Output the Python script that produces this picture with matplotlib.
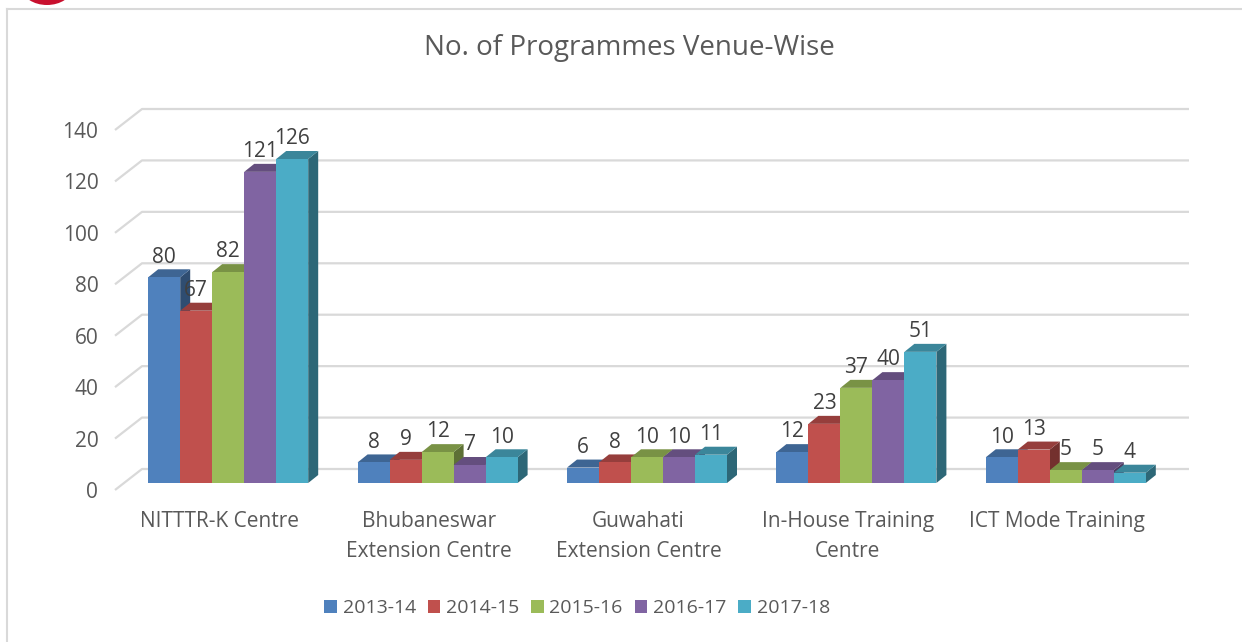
import matplotlib
matplotlib.use('Agg')
import matplotlib.pyplot as plt
from matplotlib.collections import PolyCollection
from matplotlib.lines import Line2D
from matplotlib.patches import Ellipse, Patch
import numpy as np

# Daten
categories = ['NITTTR-K Centre', 'Bhubaneswar\nExtension Centre', 'Guwahati\nExtension Centre',
              'In-House Training\nCentre', 'ICT Mode Training']
years = ['2013-14', '2014-15', '2015-16', '2016-17', '2017-18']
v_2013 = [80, 8, 6, 12, 10]
v_2014 = [67, 9, 8, 23, 13]
v_2015 = [82, 12, 10, 37, 5]
v_2016 = [121, 7, 10, 40, 5]
v_2017 = [126, 10, 11, 51, 4]
series = [v_2013, v_2014, v_2015, v_2016, v_2017]
yticks = [0, 20, 40, 60, 80, 100, 120, 140]

colors = ['#4F81BD', '#C0504D', '#9BBB59', '#8064A2', '#4BACC6']

plt.rcParams['font.family'] = ['Open Sans', 'DejaVu Sans']

W, H = 1242, 642
fig = plt.figure(figsize=(W / 100, H / 100), dpi=100)

# Vorderebene: x 115..1162 px, y 0 -> 490 px, 140 -> 130 px
ax = fig.add_axes([115 / W, (H - 490) / H, 1047 / W, 360 / H])
ax.set_xlim(-0.5, 4.5)
ax.set_ylim(0, 140)

px_x = 1047 / 5
px_y = 360 / 140
wall_dx, wall_dy = 27 / px_x, 21 / px_y
bar_dx, bar_dy = 8.5 / px_x, 7 / px_y
dep_dx, dep_dy = 10 / px_x, 8 / px_y
bar_w = 32 / px_x

# Gitterlinien (Rueckwand + linke Wand)
for t in yticks:
    ax.plot([-0.5, -0.5 + wall_dx, 4.5 + wall_dx], [t, t + wall_dy, t + wall_dy],
            color='#d9d9d9', lw=1.6, clip_on=False, zorder=1, solid_capstyle='butt')


def shade(c, f):
    rgb = np.array(matplotlib.colors.to_rgb(c))
    return tuple(rgb * f)


x = np.arange(len(categories))
for s, (vals, col) in enumerate(zip(series, colors)):
    xs = x + bar_dx + (s - 2) * bar_w
    z = 3 + 3 * s
    sides, tops = [], []
    for xc, v in zip(xs, vals):
        x0, x1 = xc - bar_w / 2, xc + bar_w / 2
        b, t = bar_dy, bar_dy + v
        sides.append([(x1, b), (x1 + dep_dx, b + dep_dy), (x1 + dep_dx, t + dep_dy), (x1, t)])
        tops.append([(x0, t), (x0 + dep_dx, t + dep_dy), (x1 + dep_dx, t + dep_dy), (x1, t)])
    ax.add_collection(PolyCollection(sides, facecolors=shade(col, 0.6), edgecolors='none',
                                     zorder=z, clip_on=False))
    ax.add_collection(PolyCollection(tops, facecolors=shade(col, 0.78), edgecolors='none',
                                     zorder=z + 1, clip_on=False))
    ax.bar(xs, vals, bar_w, bottom=bar_dy, color=col, zorder=z + 2, clip_on=False)
    for xc, v in zip(xs, vals):
        ax.annotate(str(v), (xc, v + bar_dy), xytext=(0, 7), textcoords='offset points',
                    ha='center', va='bottom', fontsize=15, color='#404040', zorder=30)

for sp in ax.spines.values():
    sp.set_visible(False)
ax.set_yticks(yticks)
ax.set_yticklabels([str(t) for t in yticks], fontsize=15, color='#595959')
ax.set_xticks(x)
ax.set_xticklabels(categories, fontsize=15, color='#595959', linespacing=1.6)
ax.tick_params(axis='y', length=0, pad=12)
ax.tick_params(axis='x', length=0, pad=15)
ax.patch.set_visible(False)

fig.text(629 / W, 1 - 48 / H, 'No. of Programmes Venue-Wise', ha='center', va='center',
         fontsize=20, color='#595959')

handles = [Patch(facecolor=c, edgecolor='none') for c in colors]
fig.legend(handles, years, loc='center', bbox_to_anchor=(577 / W, 1 - 608 / H), ncol=5,
           frameon=False, fontsize=14, handlelength=0.65, handleheight=0.65,
           handletextpad=0.3, columnspacing=0.6, labelcolor='#595959')

# Rahmen und Logo-Rest
fig.add_artist(Line2D([6.5 / W, 6.5 / W], [0, 1 - 9 / H], color='#d9d9d9', lw=1.5,
                      transform=fig.transFigure))
fig.add_artist(Line2D([6.5 / W, 1], [1 - 9 / H, 1 - 9 / H], color='#d9d9d9', lw=1.5,
                      transform=fig.transFigure))
fig.add_artist(Ellipse((47 / W, 1 + 12 / H), 50 / W, 34 / H, facecolor='#c8102e',
                       edgecolor='none', transform=fig.transFigure))
fig.add_artist(Ellipse((47 / W, 1 + 14 / H), 34 / W, 26 / H, facecolor='#2b2f6b',
                       edgecolor='none', transform=fig.transFigure))

fig.savefig('out.png', dpi=100)
